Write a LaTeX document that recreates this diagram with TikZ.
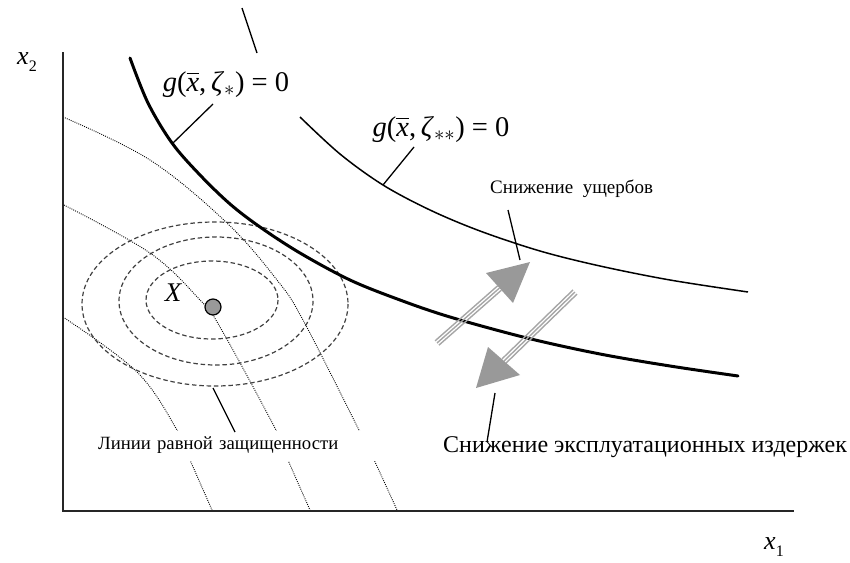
\documentclass[tikz,border=0pt]{standalone}
\usepackage{fontspec}
\setmainfont{Liberation Serif}
\usetikzlibrary{calc}
\begin{document}
\begin{tikzpicture}[x=1pt,y=-1pt,
  axis/.style={line width=1.6pt, black!85},
  thickcurve/.style={line width=3pt, line cap=round},
  thincurve/.style={line width=1.5pt},
  isoline/.style={line width=0.9pt, dash pattern=on 0.9pt off 1.2pt, black},
  ellip/.style={line width=1.2pt, dash pattern=on 4.5pt off 2.8pt, black!75},
  leader/.style={line width=1.3pt},
  shaft/.style={line width=1.4pt, black!35},
  headfill/.style={fill=black!40},
  mathlbl/.style={font=\fontsize{28.5}{30}\selectfont, inner sep=0pt},
  bigtxt/.style={font=\fontsize{24}{26}\selectfont, inner sep=0pt},
  midtxt/.style={font=\fontsize{19}{22}\selectfont, inner sep=0pt},
  smalltxt/.style={font=\fontsize{18.7}{20}\selectfont},
]
\useasboundingbox (0,0) rectangle (850,562);

% iso-protection lines
\draw[isoline] plot[smooth, tension=0.6] coordinates {(63,117) (150,160) (227,223) (277,280) (303,320) (360,432) (375,462) (397,510)};
\draw[isoline] plot[smooth, tension=0.6] coordinates {(64,205) (150,253) (200,300) (220,327) (277,432) (288,460) (310,510)};
\draw[isoline] plot[smooth, tension=0.6] coordinates {(63,317) (137,372) (177,430) (190,460) (212,510)};

% label for iso lines (covers the lines)
\node[smalltxt, fill=white, anchor=base west, text width=283pt, inner xsep=0pt, inner ysep=0pt, text height=18pt, text depth=12pt] (iso) at (98,449) {Линии равной защищенности};

% axes
\coordinate (O) at (63,511);
\coordinate (ytop) at (63,52);
\coordinate (xend) at (794,511);
\draw[axis] (ytop) -- (O) -- (xend);
\node[font=\fontsize{26}{28}\selectfont, inner sep=0pt] (xtwo) at (27,62) {\textit{x}\raisebox{-0.28em}{\fontsize{16}{16}\selectfont 2}};
\node[font=\fontsize{26}{28}\selectfont, inner sep=0pt] (xone) at (774,547) {\textit{x}\raisebox{-0.28em}{\fontsize{16}{16}\selectfont 1}};

% ellipses
\draw[ellip] (215,304) ellipse [x radius=133, y radius=82];
\draw[ellip] (216,301) ellipse [x radius=97, y radius=64];
\draw[ellip] (212,300) ellipse [x radius=66, y radius=39];

% point X
\node[circle, draw=black, line width=1.2pt, fill=black!40, minimum size=16pt, inner sep=0pt] (pt) at (213,307) {};
\node[font=\fontsize{27}{29}\selectfont\itshape, inner sep=0pt] (Xl) at (173,293) {X};

% leader for iso label
\coordinate (isoA) at (213,388);
\coordinate (isoB) at (235,432);
\draw[leader] (isoA) -- (isoB);

% top short stroke
\coordinate (ts1) at (242,8);
\coordinate (ts2) at (257,53);
\draw[leader] (ts1) -- (ts2);

% constraint curves
\draw[thickcurve] plot[smooth, tension=0.55] coordinates {(130,58) (148,103) (172,143) (200,175) (230,204) (260,227) (300,253) (350,280) (400,300) (450,317) (527,338) (600,354) (670,366) (738,376)};
\draw[thincurve] plot[smooth, tension=0.55] coordinates {(300,117) (340,154) (383,185) (430,210) (480,231) (540,251) (600,266) (670,280) (748,292)};

% labels of curves
\node[mathlbl] (g1) at (226,85) {\textit{g}($\overline{\vphantom{l}\hbox{\textit{x}}}$,\,\textit{ζ}$_{*}$) = 0};
\node[mathlbl] (g2) at (441,130) {\textit{g}($\overline{\vphantom{l}\hbox{\textit{x}}}$,\,\textit{ζ}$_{**}$) = 0};
\coordinate (g1a) at (213,104);
\coordinate (g1b) at (172,144);
\draw[leader] (g1a) -- (g1b);
\coordinate (g2a) at (414,147);
\coordinate (g2b) at (383,185);
\draw[leader] (g2a) -- (g2b);

% arrows
\coordinate (u1) at (437,343);
\coordinate (u2) at (499.5,288);
\foreach \o in {-2.9,0,2.9}{
  \draw[shaft] ($(u1)!\o pt!90:(u2)$) -- ($(u2)!\o pt!-90:(u1)$);
}
\fill[headfill] (530,262) -- (486,273) -- (513,303) -- cycle;

\coordinate (d1) at (575,292);
\coordinate (d2) at (504,361);
\foreach \o in {-2.9,0,2.9}{
  \draw[shaft] ($(d1)!\o pt!90:(d2)$) -- ($(d2)!\o pt!-90:(d1)$);
}
\fill[headfill] (476,388) -- (488,347) -- (520,375) -- cycle;

% texts
\node[midtxt, anchor=base west] (t1) at (490,193) {Снижение\ \ ущербов};
\node[bigtxt, anchor=base west] (t2) at (443,452) {Снижение эксплуатационных издержек};
\coordinate (t1a) at (508,210);
\coordinate (t1b) at (520,260);
\draw[leader] (t1a) -- (t1b);
\coordinate (t2a) at (495,393);
\coordinate (t2b) at (487,442);
\draw[leader] (t2a) -- (t2b);
\end{tikzpicture}
\end{document}
